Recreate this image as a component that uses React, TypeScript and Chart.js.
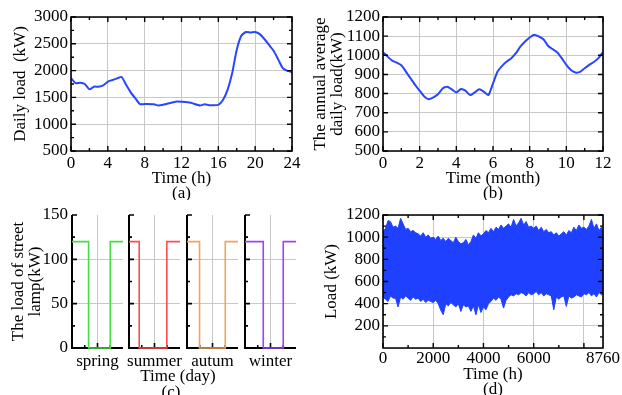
import React, { useEffect, useRef } from 'react';
import { Chart, registerables } from 'chart.js';
Chart.register(...registerables);

const FONT = "'Liberation Serif', 'Times New Roman', Times, serif";
const GRID = '#c8c8c8';
const BLUE = '#2846ff';
const FILL_BLUE = '#2040ff';

// ---------- (a) daily load ----------
const dayHours = [0, 0.5, 1, 1.5, 2, 2.5, 3, 3.5, 4, 4.5, 5, 5.5, 6, 6.5, 7, 7.5, 8, 9, 9.5, 10, 11, 11.5, 12, 13, 14, 14.5, 15, 16, 16.5, 17, 17.5, 18, 18.5, 19, 19.5, 20, 20.5, 21, 21.5, 22, 22.5, 23, 23.5, 24];
const dailyLoad = [1860, 1765, 1775, 1750, 1650, 1700, 1700, 1725, 1795, 1825, 1855, 1880, 1730, 1590, 1480, 1375, 1375, 1370, 1350, 1362, 1405, 1425, 1420, 1400, 1350, 1370, 1355, 1360, 1450, 1640, 1950, 2390, 2650, 2720, 2710, 2720, 2680, 2590, 2480, 2370, 2210, 2045, 1995, 1975];

// ---------- (b) annual average daily load ----------
const months = [0, 0.25, 0.5, 0.75, 1, 1.25, 1.5, 1.75, 2, 2.25, 2.5, 2.75, 3, 3.25, 3.5, 3.75, 4, 4.25, 4.5, 4.75, 5, 5.25, 5.5, 5.75, 6, 6.25, 6.5, 6.75, 7, 7.25, 7.5, 7.75, 8, 8.25, 8.5, 8.75, 9, 9.25, 9.5, 9.75, 10, 10.25, 10.5, 10.75, 11, 11.25, 11.5, 11.75, 12];
const monthlyLoad = [1016, 993, 972, 962, 948, 915, 880, 845, 815, 785, 770, 780, 796, 827, 836, 822, 806, 824, 815, 792, 806, 822, 810, 792, 853, 915, 945, 967, 985, 1011, 1046, 1072, 1093, 1107, 1098, 1084, 1050, 1032, 1016, 985, 950, 923, 910, 913, 932, 950, 965, 985, 1016];

// ---------- (c) street lamp ----------
const seasons = ['spring', 'summer', 'autum', 'winter'];
const seasonColors = ['#44dd44', '#ff4d4d', '#f5a25a', '#a040ff'];
const lampOffHour = [7.8, 4.8, 5.9, 8.6];
const lampOnHour = [18.0, 17.8, 18.0, 18.0];
const lampPower = 120;

// ---------- (d) hourly load envelope ----------
const yearHours = [0, 100, 200, 300, 400, 500, 600, 700, 800, 900, 1000, 1100, 1200, 1300, 1400, 1500, 1600, 1700, 1800, 1900, 2000, 2100, 2200, 2300, 2400, 2500, 2600, 2700, 2800, 2900, 3000, 3100, 3200, 3300, 3400, 3500, 3600, 3700, 3800, 3900, 4000, 4100, 4200, 4300, 4400, 4500, 4600, 4700, 4800, 4900, 5000, 5100, 5200, 5300, 5400, 5500, 5600, 5700, 5800, 5900, 6000, 6100, 6200, 6300, 6400, 6500, 6600, 6700, 6800, 6900, 7000, 7100, 7200, 7300, 7400, 7500, 7600, 7700, 7800, 7900, 8000, 8100, 8200, 8300, 8400, 8500, 8600, 8700, 8760];
const loadUpper = [1050, 1080, 1150, 1140, 1090, 1100, 1080, 1170, 1120, 1070, 1080, 1050, 1060, 1040, 1030, 1010, 1040, 1000, 1020, 990, 1000, 980, 1010, 970, 990, 960, 990, 970, 950, 1000, 960, 940, 950, 980, 930, 960, 1020, 990, 1040, 1010, 1030, 1060, 1040, 1080, 1050, 1090, 1070, 1110, 1080, 1100, 1120, 1090, 1160, 1100, 1130, 1170, 1110, 1140, 1090, 1100, 1080, 1100, 1060, 1090, 1050, 1070, 1040, 1050, 1020, 1040, 1010, 1030, 1050, 1020, 1060, 1040, 1090, 1060, 1110, 1080, 1090, 1070, 1100, 1160, 1080, 1120, 1060, 1090, 1040];
const loadLower = [460, 440, 420, 470, 450, 450, 370, 460, 440, 470, 450, 430, 460, 440, 450, 420, 440, 410, 430, 420, 410, 430, 400, 340, 300, 400, 380, 410, 390, 370, 400, 330, 390, 370, 380, 330, 380, 300, 390, 320, 370, 345, 400, 420, 450, 430, 460, 440, 360, 430, 460, 480, 470, 490, 480, 500, 490, 470, 500, 480, 490, 510, 480, 500, 470, 490, 480, 470, 345, 460, 440, 460, 470, 375, 470, 450, 460, 480, 470, 460, 490, 480, 500, 470, 490, 460, 500, 480, 490];
const dXTicks = [0, 2000, 4000, 6000, 8000, 8760];

// ---------- frame / inward ticks plugin ----------
function drawFrame(chart: any, o: any) {
  const { ctx, chartArea: ca, scales } = chart;
  const xs = scales.x;
  const ys = scales.y;
  const sides: string[] = o.sides;
  ctx.save();
  ctx.strokeStyle = '#000';
  ctx.lineWidth = o.tickWidth;
  ctx.beginPath();
  const tx = (vals: number[], len: number) => vals.forEach((v) => {
    const p = xs.getPixelForValue(v);
    if (sides.includes('bottom')) { ctx.moveTo(p, ca.bottom); ctx.lineTo(p, ca.bottom - len); }
    if (sides.includes('top')) { ctx.moveTo(p, ca.top); ctx.lineTo(p, ca.top + len); }
  });
  const ty = (vals: number[], len: number) => vals.forEach((v) => {
    const p = ys.getPixelForValue(v);
    if (sides.includes('left')) { ctx.moveTo(ca.left, p); ctx.lineTo(ca.left + len, p); }
    if (sides.includes('right')) { ctx.moveTo(ca.right, p); ctx.lineTo(ca.right - len, p); }
  });
  tx(o.xMajor, o.majorLen); tx(o.xMinor, o.minorLen);
  ty(o.yMajor, o.majorLen); ty(o.yMinor, o.minorLen);
  ctx.stroke();
  ctx.lineWidth = o.borderWidth;
  ctx.beginPath();
  if (o.box) {
    ctx.rect(ca.left, ca.top, ca.right - ca.left, ca.bottom - ca.top);
  } else {
    ctx.moveTo(ca.left, ca.top);
    ctx.lineTo(ca.left, ca.bottom);
    ctx.lineTo(ca.right, ca.bottom);
  }
  ctx.stroke();
  ctx.restore();
}
const framePlugin = {
  id: 'frame',
  beforeDatasetsDraw(chart: any, _a: any, o: any) { if (o && o.under) drawFrame(chart, o); },
  afterDatasetsDraw(chart: any, _a: any, o: any) { if (o && !o.under) drawFrame(chart, o); },
};

const tickFont = { family: FONT, size: 17 };
const numLabel = (v: any) => String(v);

function makeConfig(p: any) {
  return {
    type: 'scatter',
    data: { datasets: p.datasets },
    options: {
      animation: false,
      responsive: false,
      devicePixelRatio: 1,
      layout: { padding: p.padding },
      plugins: { legend: { display: false }, tooltip: { enabled: false }, frame: p.frame },
      elements: { point: { radius: 0 } },
      scales: {
        x: { type: 'linear', ...p.x, afterFit: (s: any) => { s.height = p.xHeight; } },
        y: { type: 'linear', ...p.y, afterFit: (s: any) => { s.width = p.yWidth; } },
      },
    },
    plugins: [framePlugin],
  };
}

function ChartBox(props: { left: number; top: number; width: number; height: number; make: () => any }) {
  const ref = useRef<HTMLCanvasElement>(null);
  useEffect(() => {
    const chart = new Chart(ref.current as HTMLCanvasElement, props.make());
    return () => chart.destroy();
  }, []);
  return (
    <canvas
      ref={ref}
      width={props.width}
      height={props.height}
      style={{ position: 'absolute', left: props.left, top: props.top, width: props.width, height: props.height }}
    />
  );
}

const pts = (xs: number[], ys: number[]) => xs.map((x, i) => ({ x, y: ys[i] }));

const configA = () => makeConfig({
  datasets: [{ data: pts(dayHours, dailyLoad), showLine: true, borderColor: BLUE, borderWidth: 2, tension: 0.2 }],
  padding: { left: 0, right: 19, top: 17, bottom: 0 },
  yWidth: 71, xHeight: 49,
  x: {
    min: 0, max: 24,
    ticks: { stepSize: 4, autoSkip: false, maxRotation: 0, padding: 2, color: '#000', font: tickFont, callback: numLabel },
    grid: { color: GRID, drawTicks: false }, border: { display: false },
    title: { display: true, text: ['Time (h)', '(a)'], color: '#000', font: { family: FONT, size: 17, lineHeight: 0.9 }, padding: { top: 0, bottom: -1 } },
  },
  y: {
    min: 500, max: 3000,
    ticks: { stepSize: 500, autoSkip: false, padding: 3, color: '#000', font: tickFont, callback: numLabel },
    grid: { color: GRID, drawTicks: false }, border: { display: false },
    title: { display: true, text: 'Daily load  (kW)', color: '#000', font: { family: FONT, size: 17, lineHeight: 1.2 }, padding: { top: 10, bottom: 0 } },
  },
  frame: {
    sides: ['left', 'right', 'top', 'bottom'], box: true, borderWidth: 1.6, tickWidth: 1.4, majorLen: 5, minorLen: 3,
    xMajor: [0, 4, 8, 12, 16, 20, 24], xMinor: [2, 6, 10, 14, 18, 22],
    yMajor: [500, 1000, 1500, 2000, 2500, 3000], yMinor: [750, 1250, 1750, 2250, 2750],
  },
});

const configB = () => makeConfig({
  datasets: [{ data: pts(months, monthlyLoad), showLine: true, borderColor: BLUE, borderWidth: 2, tension: 0.2 }],
  padding: { left: 0, right: 19, top: 17, bottom: 0 },
  yWidth: 72, xHeight: 49,
  x: {
    min: 0, max: 12,
    ticks: { stepSize: 2, autoSkip: false, maxRotation: 0, padding: 2, color: '#000', font: tickFont, callback: numLabel },
    grid: { color: GRID, drawTicks: false }, border: { display: false },
    title: { display: true, text: ['Time (month)', '(b)'], color: '#000', font: { family: FONT, size: 17, lineHeight: 0.9 }, padding: { top: 0, bottom: -1 } },
  },
  y: {
    min: 500, max: 1200,
    ticks: { stepSize: 100, autoSkip: false, padding: 3, color: '#000', font: tickFont, callback: numLabel },
    grid: { color: GRID, drawTicks: false }, border: { display: false },
    title: { display: true, text: ['The annual average', 'daily load(kW)'], color: '#000', font: { family: FONT, size: 17, lineHeight: 1.0 }, padding: { top: 1, bottom: 0 } },
  },
  frame: {
    sides: ['left', 'right', 'top', 'bottom'], box: true, borderWidth: 1.6, tickWidth: 1.4, majorLen: 5, minorLen: 3,
    xMajor: [0, 2, 4, 6, 8, 10, 12], xMinor: [1, 3, 5, 7, 9, 11],
    yMajor: [500, 600, 700, 800, 900, 1000, 1100, 1200], yMinor: [],
  },
});

const cPlotLeft = [72, 129, 187, 245];
const cPlotWidth = 51;

const lampPoints = (i: number) => [
  { x: 0, y: lampPower }, { x: lampOffHour[i], y: lampPower }, { x: lampOffHour[i], y: 0 },
  { x: lampOnHour[i], y: 0 }, { x: lampOnHour[i], y: lampPower }, { x: 24, y: lampPower },
];

const configC = (i: number) => () => makeConfig({
  datasets: [{ data: lampPoints(i), showLine: true, borderColor: seasonColors[i], borderWidth: 1.6, tension: 0, clip: 4 }],
  padding: i === 0 ? { left: 0, right: 3, top: 15, bottom: 0 } : { left: 3, right: 3, top: 15, bottom: 0 },
  yWidth: i === 0 ? 72 : 0, xHeight: 47,
  x: {
    min: 0, max: 24,
    afterBuildTicks: (s: any) => { s.ticks = [0, 12, 24].map((v) => ({ value: v })); },
    ticks: { display: false },
    grid: { color: (c: any) => (c.tick && c.tick.value === 12 ? GRID : 'rgba(0,0,0,0)'), drawTicks: false },
    border: { display: false },
  },
  y: {
    min: 0, max: 150,
    ticks: { display: i === 0, stepSize: 50, autoSkip: false, padding: 4, color: '#000', font: tickFont, callback: numLabel },
    grid: { color: (c: any) => (c.tick && (c.tick.value === 50 || c.tick.value === 100) ? GRID : 'rgba(0,0,0,0)'), drawTicks: false },
    border: { display: false },
    title: i === 0
      ? { display: true, text: ['The load of street', 'lamp(kW)'], color: '#000', font: { family: FONT, size: 17, lineHeight: 1.0 }, padding: { top: 10, bottom: 0 } }
      : { display: false },
  },
  frame: {
    under: true, sides: ['left', 'bottom'], box: false, borderWidth: 2, tickWidth: 1.6, majorLen: 5, minorLen: 3,
    xMajor: [12], xMinor: [6, 18], yMajor: [0, 50, 100, 150], yMinor: [25, 75, 125],
  },
});

const configD = () => makeConfig({
  datasets: [
    { data: pts(yearHours, loadUpper), showLine: true, borderColor: FILL_BLUE, backgroundColor: FILL_BLUE, borderWidth: 1, tension: 0, fill: '+1' },
    { data: pts(yearHours, loadLower), showLine: true, borderColor: FILL_BLUE, borderWidth: 1, tension: 0, fill: false },
  ],
  padding: { left: 0, right: 19, top: 15, bottom: 0 },
  yWidth: 72, xHeight: 47,
  x: {
    min: 0, max: 8760,
    afterBuildTicks: (s: any) => { s.ticks = dXTicks.map((v) => ({ value: v })); },
    ticks: { autoSkip: false, maxRotation: 0, padding: 0, color: '#000', font: tickFont, callback: (v: any) => (v === 8000 ? '' : String(v)) },
    grid: { color: GRID, drawTicks: false }, border: { display: false },
    title: { display: true, text: ['Time (h)', '(d)'], color: '#000', font: { family: FONT, size: 17, lineHeight: 0.9 }, padding: { top: 0, bottom: -2 } },
  },
  y: {
    min: 0, max: 1200,
    ticks: { stepSize: 200, autoSkip: false, padding: 3, color: '#000', font: tickFont, callback: (v: any) => (v === 0 ? '' : String(v)) },
    grid: { color: GRID, drawTicks: false }, border: { display: false },
    title: { display: true, text: 'Load (kW)', color: '#000', font: { family: FONT, size: 17, lineHeight: 1.2 }, padding: { top: 10, bottom: 0 } },
  },
  frame: {
    sides: ['left', 'right', 'top', 'bottom'], box: true, borderWidth: 1.6, tickWidth: 1.4, majorLen: 5, minorLen: 3,
    xMajor: [0, 2000, 4000, 6000, 8000], xMinor: [1000, 3000, 5000, 7000],
    yMajor: [200, 400, 600, 800, 1000, 1200], yMinor: [100, 300, 500, 700, 900, 1100],
  },
});

const textStyle = (x: number, y: number): React.CSSProperties => ({
  position: 'absolute', left: x, top: y, transform: 'translate(-50%, -50%)',
  fontFamily: FONT, fontSize: 17, lineHeight: 1, color: '#000', whiteSpace: 'nowrap',
});

export default function App() {
  return (
    <div style={{ position: 'fixed', left: 0, top: 0, width: 622, height: 395, overflow: 'hidden', background: '#fff' }}>
      <ChartBox left={0} top={0} width={311} height={200} make={configA} />
      <ChartBox left={311} top={0} width={311} height={200} make={configB} />
      {seasons.map((s, i) => (
        <ChartBox
          key={s}
          left={i === 0 ? 0 : cPlotLeft[i] - 3}
          top={200}
          width={i === 0 ? cPlotLeft[0] + cPlotWidth + 3 : cPlotWidth + 6}
          height={195}
          make={configC(i)}
        />
      ))}
      {seasons.map((s, i) => (
        <div key={'l' + s} style={textStyle(cPlotLeft[i] + cPlotWidth / 2, 360)}>{s}</div>
      ))}
      <div style={textStyle(178, 375)}>Time (day)</div>
      <div style={textStyle(171, 391)}>(c)</div>
      <ChartBox left={311} top={200} width={311} height={195} make={configD} />
    </div>
  );
}
